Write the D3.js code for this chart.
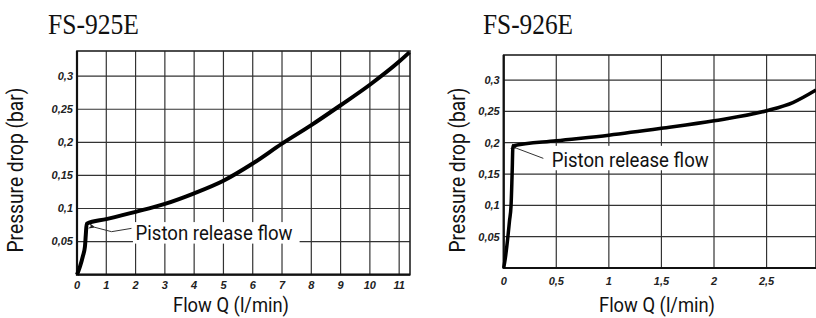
<!DOCTYPE html>
<html>
<head>
<meta charset="utf-8">
<script src="https://cdn.jsdelivr.net/npm/d3@7"></script>
<style>
  body { margin: 0; background: #fff; }
  .tick-label { font-family: "Liberation Sans", Arial, sans-serif; font-size: 11px; font-weight: bold; font-style: italic; fill: #222; }
  .axis-text { font-family: Roboto, "Liberation Sans", sans-serif; fill: #111; }
  .title-text { font-family: "Liberation Serif", "Times New Roman", serif; fill: #111; }
</style>
</head>
<body>
<script>
// DATA -----------------------------------

// FS-925E curve (flow l/min, pressure drop bar)
var flow925 = [0, 0.1, 0.2, 0.27, 0.3, 0.33, 1, 2, 3, 4, 5, 6, 7, 8, 9, 10, 11, 11.35];
var drop925 = [0, 0.012, 0.028, 0.042, 0.06, 0.077, 0.084, 0.095, 0.107, 0.123, 0.142, 0.168, 0.198, 0.226, 0.256, 0.287, 0.322, 0.336];

// FS-926E curve
var flow926 = [0, 0.015, 0.03, 0.04, 0.055, 0.07, 0.08, 0.088, 0.5, 1, 1.5, 2, 2.5, 2.75, 2.97];
var drop926 = [0, 0.015, 0.035, 0.05, 0.075, 0.1, 0.15, 0.195, 0.203, 0.212, 0.223, 0.235, 0.251, 0.264, 0.284];

// tick values
var xTicks925 = [0, 1, 2, 3, 4, 5, 6, 7, 8, 9, 10, 11];
var xTicks926 = [0, 0.5, 1, 1.5, 2, 2.5];
var yTicks = [0.05, 0.1, 0.15, 0.2, 0.25, 0.3];

// chart titles and labels
var titles = ["FS-925E", "FS-926E"];
var xLabel = "Flow Q (l/min)";
var yLabel = "Pressure drop (bar)";
var noteLabel = "Piston release flow";

// SET UP SVG ELEMENT -----------------------------------

var svgWidth = 816;
var svgHeight = 318;

var svg = d3.select("body")
  .append("svg")
  .attr("width", svgWidth)
  .attr("height", svgHeight);

svg.append("rect")
  .attr("width", svgWidth)
  .attr("height", svgHeight)
  .attr("fill", "#fff");

// arrow head for the leader lines
svg.append("defs").append("marker")
  .attr("id", "arrow")
  .attr("viewBox", "0 0 10 10")
  .attr("refX", 1)
  .attr("refY", 5)
  .attr("markerWidth", 7)
  .attr("markerHeight", 7)
  .attr("orient", "auto-start-reverse")
  .attr("markerUnits", "userSpaceOnUse")
  .append("path")
  .attr("d", "M0,5 L10,1 L7,5 L10,9 Z")
  .attr("fill", "#222");

// panel settings (layout only)
var panels = [
  {
    title: titles[0], titleX: 48, titleW: 91,
    flow: flow925, drop: drop925, xTicks: xTicks925,
    xDomain: [0, 11.37], xRange: [77, 410],
    yDomain: [0, 0.338], yRange: [274.7, 51],
    tickLabelDy: 14, yTitleX: 23, xTitleX: 231,
    note: { x: 2.0, y: 0.052, box: [1.91, 0.047, 7.6, 0.0795] },
    leader: [[1.86, 0.070], [1.18, 0.065], [0.61, 0.0716]],
    curveWidth: 4
  },
  {
    title: titles[1], titleX: 483, titleW: 90,
    flow: flow926, drop: drop926, xTicks: xTicks926,
    xDomain: [0, 2.97], xRange: [503.7, 816],
    yDomain: [0, 0.34], yRange: [268, 55],
    tickLabelDy: 17, yTitleX: 465, xTitleX: 657,
    note: { x: 0.457, y: 0.1617, box: [0.40, 0.156, 1.99, 0.195] },
    leader: [[0.377, 0.175], [0.124, 0.191]],
    curveWidth: 3.5
  }
];

// DRAW EACH PANEL -----------------------------------

panels.forEach(function(p) {

  var x = d3.scaleLinear().domain(p.xDomain).range(p.xRange);
  var y = d3.scaleLinear().domain(p.yDomain).range(p.yRange);
  var g = svg.append("g");

  // title
  g.append("text")
    .classed("title-text", true)
    .attr("x", p.titleX)
    .attr("y", 34)
    .attr("font-size", 30)
    .attr("textLength", p.titleW)
    .attr("lengthAdjust", "spacingAndGlyphs")
    .text(p.title);

  // vertical grid lines
  g.selectAll(".vgrid")
    .data(p.xTicks.slice(1))
    .enter()
    .append("line")
    .attr("x1", d => x(d))
    .attr("x2", d => x(d))
    .attr("y1", y(p.yDomain[1]))
    .attr("y2", y(0))
    .attr("stroke", "#333")
    .attr("stroke-width", 1.2);

  // horizontal grid lines
  g.selectAll(".hgrid")
    .data(yTicks)
    .enter()
    .append("line")
    .attr("x1", x(0))
    .attr("x2", x(p.xDomain[1]))
    .attr("y1", d => y(d))
    .attr("y2", d => y(d))
    .attr("stroke", "#333")
    .attr("stroke-width", 1.2);

  // frame: left and bottom thicker
  g.append("rect")
    .attr("x", x(0))
    .attr("y", y(p.yDomain[1]))
    .attr("width", x(p.xDomain[1]) - x(0))
    .attr("height", y(0) - y(p.yDomain[1]))
    .attr("fill", "none")
    .attr("stroke", "#222")
    .attr("stroke-width", 1.6);

  g.append("path")
    .attr("d", `M${x(0)},${y(p.yDomain[1])} V${y(0)} H${x(p.xDomain[1])}`)
    .attr("fill", "none")
    .attr("stroke", "#111")
    .attr("stroke-width", 2.2);

  // tick labels
  g.selectAll(".xlab")
    .data(p.xTicks)
    .enter()
    .append("text")
    .classed("tick-label", true)
    .attr("x", d => x(d))
    .attr("y", y(0) + p.tickLabelDy)
    .attr("text-anchor", "middle")
    .text(d => String(d).replace(".", ","));

  g.selectAll(".ylab")
    .data(yTicks)
    .enter()
    .append("text")
    .classed("tick-label", true)
    .attr("x", x(0) - 4)
    .attr("y", d => y(d))
    .attr("dy", "0.35em")
    .attr("text-anchor", "end")
    .text(d => String(d).replace(".", ","));

  // annotation box and text
  var b = p.note.box;
  g.append("rect")
    .attr("x", x(b[0]))
    .attr("y", y(b[3]))
    .attr("width", x(b[2]) - x(b[0]))
    .attr("height", y(b[1]) - y(b[3]))
    .attr("fill", "#fff");

  g.append("text")
    .classed("axis-text", true)
    .attr("x", x(p.note.x))
    .attr("y", y(p.note.y))
    .attr("font-size", 21)
    .attr("textLength", 157)
    .attr("lengthAdjust", "spacingAndGlyphs")
    .text(noteLabel);

  // leader line with arrow head
  g.append("path")
    .attr("d", d3.line().x(d => x(d[0])).y(d => y(d[1]))(p.leader))
    .attr("fill", "none")
    .attr("stroke", "#333")
    .attr("stroke-width", 1)
    .attr("marker-end", "url(#arrow)");

  // curve
  var pts = p.flow.map((f, i) => [f, p.drop[i]]);
  g.append("path")
    .datum(pts)
    .attr("d", d3.line()
      .x(d => x(d[0]))
      .y(d => y(d[1]))
      .curve(d3.curveMonotoneX))
    .attr("fill", "none")
    .attr("stroke", "#000")
    .attr("stroke-width", p.curveWidth)
    .attr("stroke-linejoin", "round");

  // axis titles
  g.append("text")
    .classed("axis-text", true)
    .attr("x", p.xTitleX)
    .attr("y", 312)
    .attr("font-size", 21)
    .attr("text-anchor", "middle")
    .attr("textLength", 116)
    .attr("lengthAdjust", "spacingAndGlyphs")
    .text(xLabel);

  g.append("text")
    .classed("axis-text", true)
    .attr("transform", `translate(${p.yTitleX}, 170) rotate(-90)`)
    .attr("font-size", 22)
    .attr("text-anchor", "middle")
    .attr("textLength", 165)
    .attr("lengthAdjust", "spacingAndGlyphs")
    .text(yLabel);
});
</script>
</body>
</html>
